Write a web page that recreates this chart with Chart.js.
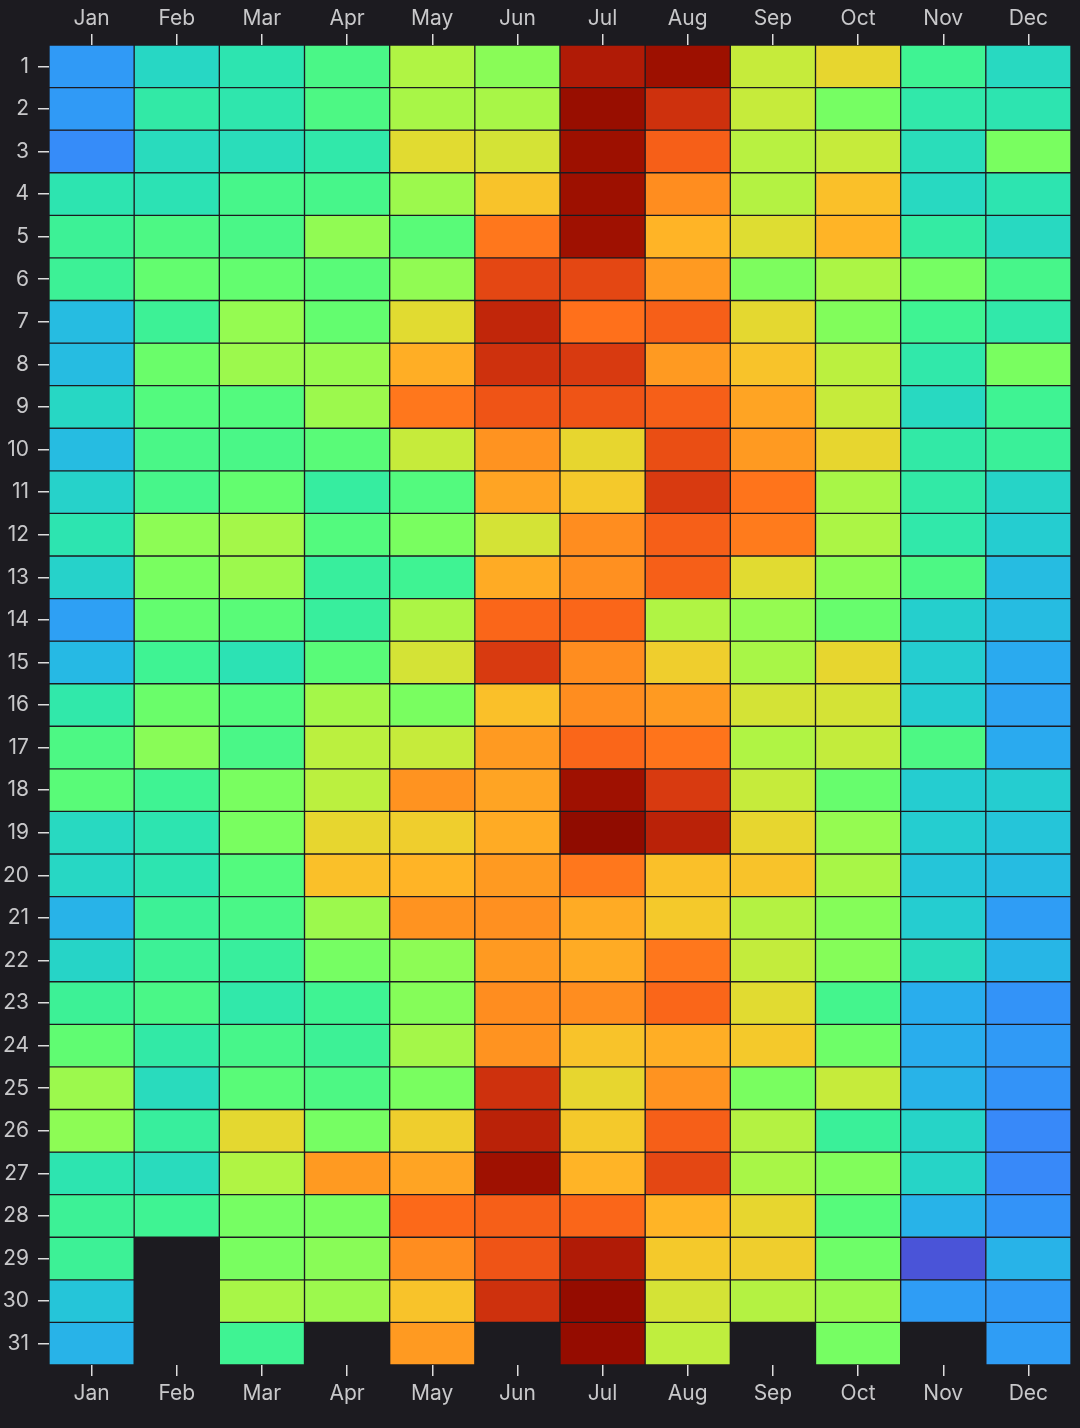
<!DOCTYPE html>
<html>
<head>
<meta charset="utf-8">
<title>Daily heatmap</title>
<script src="https://cdn.jsdelivr.net/npm/chart.js@4.4.1/dist/chart.umd.min.js"></script>
<style>
  html, body { margin: 0; padding: 0; background: #1c1b20; }
  #wrap { width: 1080px; height: 1428px; position: relative; }
</style>
</head>
<body>
<div id="wrap"><canvas id="grafico-calor"></canvas></div>
<script>
const meses = ['Jan', 'Feb', 'Mar', 'Apr', 'May', 'Jun', 'Jul', 'Aug', 'Sep', 'Oct', 'Nov', 'Dec'];
const dias = [1, 2, 3, 4, 5, 6, 7, 8, 9, 10, 11, 12, 13, 14, 15, 16, 17, 18, 19, 20, 21, 22, 23, 24, 25, 26, 27, 28, 29, 30, 31];

// one value per day, scale 0..100 (null = day does not exist)
const jan = [19.5, 19.5, 17.5, 33, 37, 37, 25, 25, 30, 25, 29, 33, 29, 20.5, 24.5, 34, 40, 42, 30.5, 30, 23.5, 29.5, 37, 43, 51, 49, 33, 37, 37, 26.5, 23.5];
const feb = [30, 34.5, 31, 32.5, 40, 43.5, 37, 44.5, 41, 39.5, 39, 49, 46.5, 43.5, 37.5, 44.5, 48.5, 37.5, 33, 33, 37, 37, 39.5, 34.5, 31, 36, 31, 37.5, null, null, null];
const mar = [33, 33.5, 31.5, 39, 39.5, 43.5, 50, 51, 41, 39.5, 43.5, 52, 51, 42, 32.5, 41, 39.5, 46.5, 46.5, 41, 39.5, 36, 34, 39, 42, 61, 53.5, 46, 46.5, 52.5, 37.5];
const apr = [39.5, 40, 34, 39, 49.5, 42, 43.5, 50.5, 51, 42, 35.5, 41, 36, 36, 42, 52, 55, 55, 61.5, 65.5, 51, 46, 37.5, 37, 40, 46, 71.5, 46.5, 48.5, 51, null];
const may = [53.5, 52.5, 60.5, 51, 42, 49.5, 60.5, 68.5, 76.5, 56.5, 41, 46.5, 37.5, 53, 58.5, 46.5, 56.5, 72.5, 63, 67.5, 72.5, 49, 48, 52, 46.5, 63, 70, 78.5, 73.5, 65, 71.5];
const jun = [48.5, 52.5, 58.5, 65, 76.5, 83.5, 89, 87, 81.5, 72.5, 70, 58.5, 69, 79, 85.5, 65.5, 71.5, 70, 69, 71.5, 73, 71.5, 73.5, 72.5, 87, 90, 94.5, 80, 81.5, 87, null];
const jul = [91.5, 96, 95, 95, 94.5, 83.5, 77.5, 85.5, 81.5, 61.5, 64, 73.5, 73, 79, 73.5, 73.5, 79, 94.5, 100, 76.5, 69, 69, 73.5, 65, 61.5, 64, 67.5, 79, 91.5, 97, 97];
const aug = [95, 87, 80, 73.5, 67.5, 71.5, 80, 71.5, 80, 82.5, 85.5, 80, 80, 53.5, 63, 71.5, 77, 85.5, 90, 65.5, 64, 76.5, 79, 68.5, 72.5, 80, 83.5, 67.5, 64, 58.5, 55.5];
const sep = [56.5, 56.5, 54.5, 54, 60, 47, 61, 65, 70, 71.5, 77, 76, 60.5, 50, 52.5, 58.5, 53.5, 56.5, 61.5, 65, 54, 56, 60.5, 64, 46.5, 54, 52.5, 61.5, 63, 54, null];
const oct = [61.5, 46, 56.5, 65.5, 67.5, 53, 47.5, 55, 56.5, 61.5, 52.5, 53, 49, 44, 61.5, 58.5, 56, 44, 50, 52.5, 48, 48, 38.5, 45, 56.5, 36.5, 47.5, 41.5, 45, 51, 46];
const nov = [37.5, 34, 31.5, 30.5, 35, 46, 37.5, 34, 30.5, 34.5, 34.5, 34, 40, 28.5, 28, 28, 40, 28, 28, 26.5, 28, 31, 22.5, 22.5, 23.5, 29.5, 29.5, 23.5, 9.5, 20, null];
const dec = [30.5, 33, 46.5, 33, 30.5, 39, 34, 46.5, 37.5, 36.5, 29.5, 28, 25, 25, 22, 21, 22, 28, 26.5, 25, 20, 24, 18.5, 19.5, 18.5, 17, 17, 18.5, 23.5, 19.5, 20];

const valoresMes = [jan, feb, mar, apr, may, jun, jul, aug, sep, oct, nov, dec];
const escalaMin = 0;
const escalaMax = 100;

const corFundo = '#1c1b20';
const corTexto = '#c8c8ca';
const corTick = '#dcdcdc';
const fonte = { family: 'Inter, "Noto Sans", sans-serif', size: 21 };

// turbo colour map (polynomial approximation)
function turbo(t) {
    t = Math.max(0, Math.min(1, t));
    var r = 34.61 + t * (1172.33 - t * (10793.56 - t * (33300.12 - t * (38394.49 - t * 14825.05))));
    var g = 23.31 + t * (557.33 + t * (1225.33 - t * (3574.96 - t * (1073.77 + t * 707.56))));
    var b = 27.2 + t * (3211.1 - t * (15327.97 - t * (27814 - t * (22569.18 - t * 6838.66))));
    var c = v => Math.max(0, Math.min(255, Math.round(v)));
    return 'rgb(' + c(r) + ',' + c(g) + ',' + c(b) + ')';
}

function corDoValor(v) {
    if (v == null) return 'rgba(0,0,0,0)';
    return turbo((v - escalaMin) / (escalaMax - escalaMin));
}

// one dataset per day of the month, floating bars [d-0.5, d+0.5]
var datasets = dias.map(function (d) {
    return {
        label: 'Dia ' + d,
        data: valoresMes.map(vals => vals[d - 1] == null ? null : [d - 0.5, d + 0.5]),
        backgroundColor: valoresMes.map(vals => corDoValor(vals[d - 1])),
        hoverBackgroundColor: valoresMes.map(vals => corDoValor(vals[d - 1])),
        borderColor: corFundo,
        borderWidth: 1,
        borderSkipped: false
    };
});

function eixoMes(posicao, altura, pad) {
    return {
        type: 'category',
        labels: meses,
        position: posicao,
        offset: true,
        grid: { offset: false, drawOnChartArea: false, drawTicks: true, tickLength: 11, color: corTick, lineWidth: 1.5 },
        border: { display: false },
        ticks: { color: corTexto, font: fonte, padding: pad, maxRotation: 0, autoSkip: false },
        afterFit: function (s) { s.height = altura; }
    };
}

Chart.defaults.color = corTexto;

const grafico = new Chart(document.getElementById('grafico-calor'), {
    type: 'bar',
    data: {
        labels: meses,
        datasets: datasets
    },
    options: {
        responsive: true,
        maintainAspectRatio: false,
        animation: false,
        layout: { padding: { left: 0, right: 9, top: 0, bottom: 0 } },
        datasets: {
            bar: { grouped: false, barPercentage: 1, categoryPercentage: 1 }
        },
        plugins: {
            legend: { display: false },
            tooltip: { enabled: false }
        },
        scales: {
            x: eixoMes('bottom', 63, 5),
            x2: eixoMes('top', 45, 3),
            y: {
                type: 'linear',
                reverse: true,
                min: 0.5,
                max: 31.5,
                afterBuildTicks: function (s) { s.ticks = dias.map(v => ({ value: v })); },
                grid: { drawOnChartArea: false, drawTicks: true, tickLength: 11, color: corTick, lineWidth: 1.5 },
                border: { display: false },
                ticks: { color: corTexto, font: fonte, padding: 9, autoSkip: false, callback: v => v },
                afterFit: function (s) { s.width = 49; }
            }
        }
    }
});
</script>
</body>
</html>
